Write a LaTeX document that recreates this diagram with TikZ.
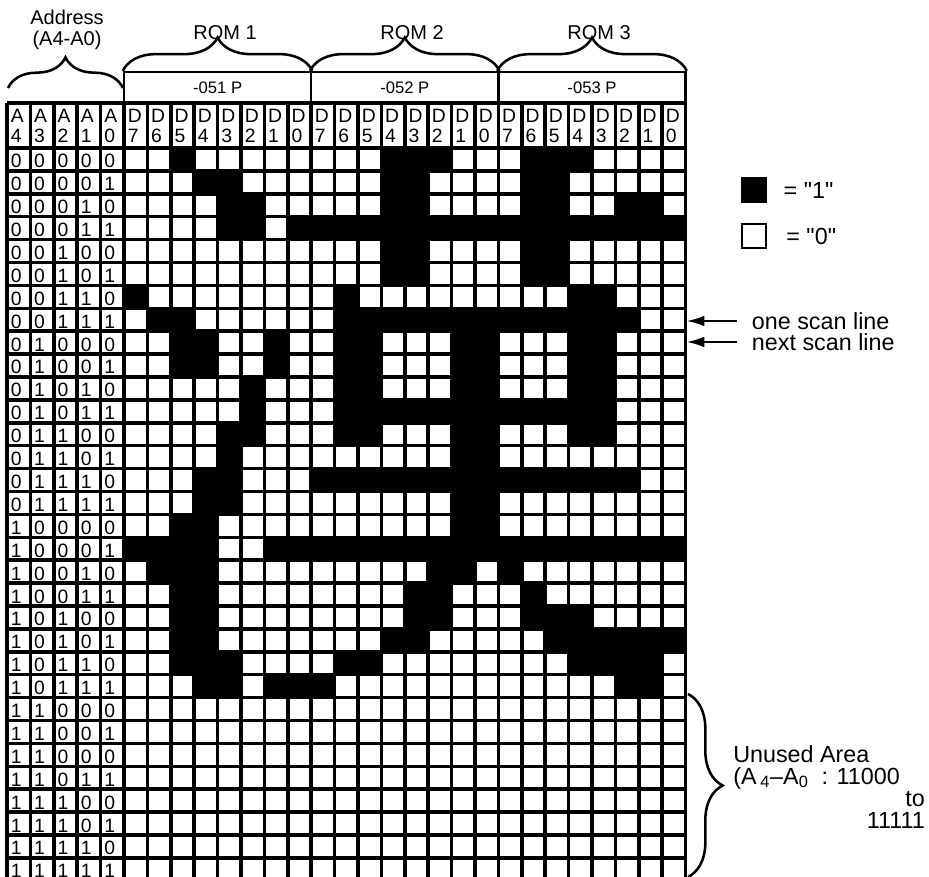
\documentclass[tikz,border=0pt]{standalone}
\usepackage{fontspec}
\setmainfont{Liberation Sans}
\usetikzlibrary{positioning,arrows.meta,decorations.pathreplacing}
\newcommand{\colw}{23.4}
\newcommand{\rowh}{22.9}

\begin{document}
\begin{tikzpicture}[x=0.75pt, y=-0.75pt,
  gridline/.style={line width=2.6pt},
  hdr/.style={font=\fontsize{14.5}{15}\selectfont, align=left, inner sep=0pt, anchor=base west},
  bit/.style={font=\fontsize{14.5}{14}\selectfont, inner sep=0pt, anchor=base west},
  lbl/.style={font=\fontsize{15}{15.75}\selectfont, align=center, inner sep=0pt},
  partbox/.style={draw, line width=1.8pt, minimum width=140.4pt, minimum height=23.25pt, inner sep=0pt, font=\fontsize{12.5}{12.5}\selectfont},
  big/.style={font=\fontsize{17.5}{16}\selectfont, inner sep=0pt},
  keybox/.style={draw, line width=2.2pt, minimum size=18pt, inner sep=0pt},
  arr/.style={-{Latex[length=13pt,width=8pt]}, line width=1.2pt},
  brc/.style={decorate, decoration={brace, amplitude=#1}, line width=1.9pt}
]
\useasboundingbox (0,0) rectangle (929,877);
\clip (0,0) rectangle (929,877);

\foreach \r/\runs in {0/{2/2,11/13,17/19}, 1/{3/4,11/12,17/18}, 2/{4/5,11/12,17/18,21/22},
    3/{4/5,7/23}, 4/{11/12,17/18}, 5/{11/12,17/18}, 6/{0/0,9/9,19/20}, 7/{1/2,9/21},
    8/{2/3,6/6,9/10,14/15,19/20}, 9/{2/3,6/6,9/10,14/15,19/20}, 10/{5/5,9/10,14/15,19/20},
    11/{5/5,9/20}, 12/{4/5,9/10,14/15,19/20}, 13/{4/4,14/15}, 14/{3/4,8/21}, 15/{3/4,14/15},
    16/{2/3,14/15}, 17/{0/3,6/23}, 18/{1/3,13/14,16/16}, 19/{2/3,12/13,17/17},
    20/{2/3,12/13,17/19}, 21/{2/3,11/12,18/23}, 22/{2/4,9/10,19/22}, 23/{3/4,6/8,21/22}}
  \foreach \a/\b in \runs
    \fill (124+\colw*\a, 148+\rowh*\r) rectangle (124+\colw*\b+\colw, 148+\rowh*\r+\rowh);

\foreach \k in {0,...,29}
  \draw[gridline] (7+\colw*\k, 103) -- (7+\colw*\k, 881);
\foreach \r in {0,...,32}
  \draw[gridline] (7, 148+\rowh*\r) -- (685.6, 148+\rowh*\r);
\draw[gridline] (7,103) -- (685.6,103);

\foreach \k [evaluate={\k as \n using int(4-\k)}] in {0,...,4}
  \node[hdr] (a\k) at (7+\colw*\k+3.5, 143) {A\\\n};
\foreach \c [evaluate={\c as \n using int(7-mod(\c,8))}] in {0,...,23}
  \node[hdr] (d\c) at (124+\colw*\c+3.5, 143) {D\\\n};

\foreach \r [evaluate={\r as \v using int(\r-2*equal(\r,26))}] in {0,...,31}
  \foreach \k [evaluate={\k as \b using int(mod(floor(\v/2^(4-\k)),2))}] in {0,...,4}
    \node[bit] (b\r-\k) at (7+\colw*\k+3.5, 148+\rowh*\r+\rowh-3) {\b};

\node[partbox] (p1) at (217.6,87.5) {-051 P};
\node[partbox] (p2) at (404.8,87.5) {-052 P};
\node[partbox] (p3) at (592,87.5) {-053 P};
\draw[brc=25pt] (p1.north west) -- (p1.north east);
\draw[brc=25pt] (p2.north west) -- (p2.north east);
\draw[brc=25pt] (p3.north west) -- (p3.north east);
\node[lbl, anchor=base] (rom1) at (225,40) {ROM 1};
\node[lbl, anchor=base] (rom2) at (412,40) {ROM 2};
\node[lbl, anchor=base] (rom3) at (599,40) {ROM 3};

\node[lbl, anchor=base] (addr) at (67,46) {Address\\(A4-A0)};
\draw[brc=23pt] (8,88) -- (123,88);

\node[keybox, fill=black] (key1) at (754,190) {};
\node[big, right=12pt of key1] (val1) {= \textquotedbl 1\textquotedbl};
\node[keybox] (key0) at (754,236) {};
\node[big, right=14pt of key0] (val0) {= \textquotedbl 0\textquotedbl};

\coordinate (gridE) at (687,0);
\node[big, anchor=west, inner xsep=11pt] (scan1) at (737,321) {one scan line};
\node[big, anchor=west, inner xsep=11pt] (scan2) at (737,342) {next scan line};
\draw[arr] (scan1.west) -- (scan1.west -| gridE);
\draw[arr] (scan2.west) -- (scan2.west -| gridE);

\coordinate (u0) at (688,694);
\coordinate (u1) at (688,877);
\draw[brc=26pt] (u0) -- (u1);
\node[big, align=left, anchor=base west] (unused) at (733,784) {Unused Area\\(A\,\textsubscript{4}--A\textsubscript{0}\ \ : 11000};
\node[big, align=right, anchor=base east] (unusedto) at (925,828) {to\\11111};
\end{tikzpicture}
\end{document}
